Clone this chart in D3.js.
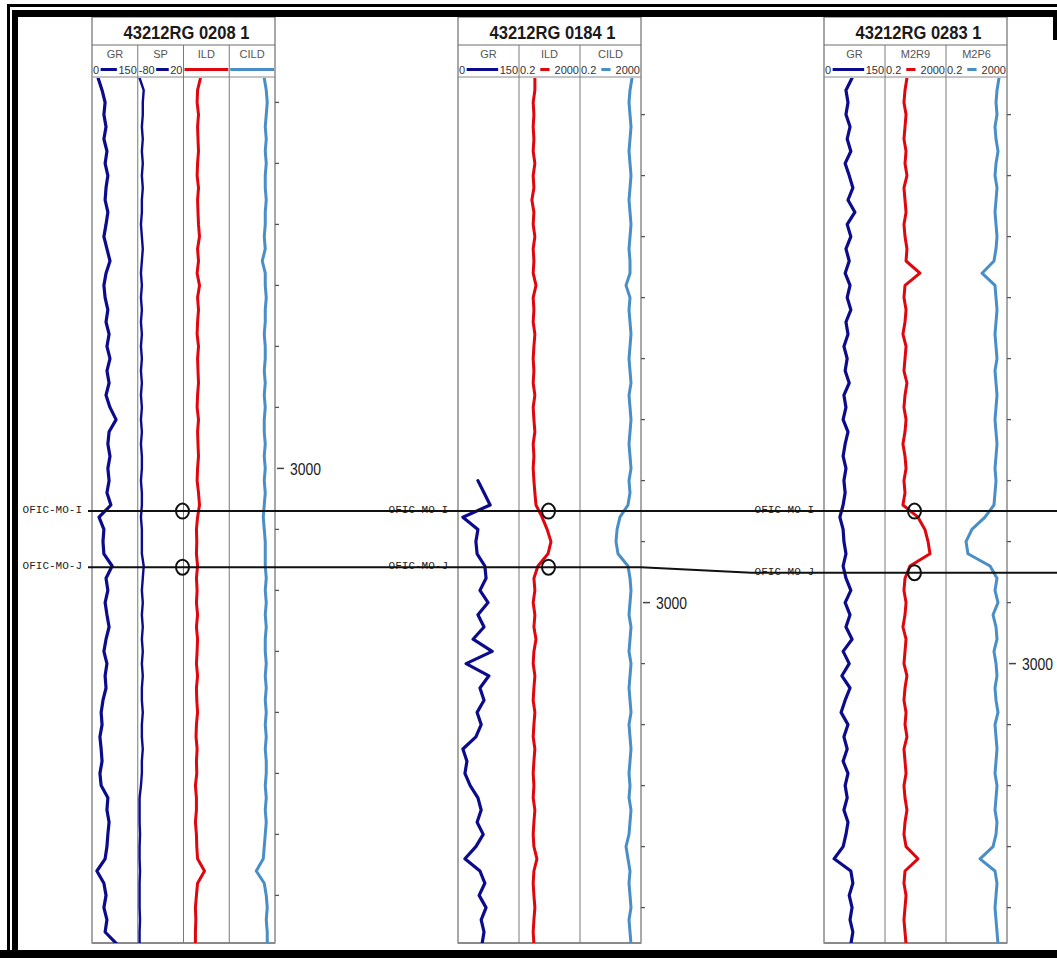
<!DOCTYPE html>
<html>
<head>
<meta charset="utf-8">
<script src="https://cdn.jsdelivr.net/npm/d3@7"></script>
<style>
  body { margin: 0; background: #fff; }
  svg { display: block; }
</style>
</head>
<body>
<div id="chart"></div>
<script>
// ---- data ----------------------------------------------------------
const wellNames = ["43212RG 0208 1", "43212RG 0184 1", "43212RG 0283 1"];
const wellTops = [2936, 2914, 2904];          // depth at top of track (m)
const sampleStep = 2;                          // m between samples
const depthLabel = 3000;
const markerNames = ["OFIC-MO-I", "OFIC-MO-J"];
const markerI = [3007.0, 2985.0, 2975.0];
const markerJ = [3016.2, 2994.2, 2985.1];

// well 43212RG 0208 1
const gr1 = [20,33,43,39,46,39,49,43,52,46, 43,52,46,39,49,59,46,39,43,52,
  46,56,49,59,49,56,46,59,79,56, 52,59,52,56,49,62,23,39,36,39,
  66,46,52,43,49,56,46,39,49,43, 46,36,30,33,26,30,33,26,30,52,
  49,56,52,49,43,16,39,46,39,49, 43,82];
const sp1 = [-76,-67,-69,-69,-71,-69,-71,-69,-71,-69, -71,-71,-73,-71,-69,-71,-73,-71,-73,-71,
  -73,-71,-73,-71,-73,-71,-73,-71,-73,-71, -73,-71,-71,-73,-71,-71,-73,-71,-71,-71,
  -67,-69,-71,-69,-71,-69,-71,-69,-71,-69, -71,-71,-69,-71,-71,-69,-71,-71,-73,-76,
  -76,-76,-75,-76,-76,-75,-76,-76,-76,-75, -76,-76];
const ild1 = [6.1,3.4,3.1,4.1,3.4,3.7,4.1,3.4,3.1,4.1, 3.4,3.7,4.1,5.0,3.4,4.1,3.1,5.0,3.4,4.1,
  3.4,3.1,4.1,3.4,3.7,4.1,3.4,3.1,4.1,3.4, 3.7,4.1,3.4,3.1,4.1,5.0,3.4,2.7,2.9,2.7,
  3.4,2.7,3.1,2.7,3.4,2.7,3.4,3.1,2.7,3.4, 2.7,2.9,3.4,2.7,2.5,3.1,2.7,2.9,2.2,2.7,
  2.7,2.2,2.7,2.9,3.4,13.7,3.4,2.7,2.2,2.4, 2.2,2.2];
const cild1 = [230,344,420,344,281,344,281,344,281,281, 344,281,281,230,281,154,281,281,344,281,
  281,230,281,281,230,281,230,281,230,230, 281,230,281,230,281,230,188,230,281,281,
  281,344,281,344,281,344,281,281,344,281, 344,281,344,281,344,281,344,344,281,344,
  281,344,281,230,188,46,230,344,420,344, 420,420];

// well 43212RG 0184 1
const gr2 = [null,null,null,null,null,null,null,null,null,null,
  null,null,null,null,null,null,null,null,null,null,
  null,null,null,null,null,null,null,null,null,null,
  null,null,null,49,64,79,12,49,44,47,
  66,69,54,74,49,64,37,84,20,76, 54,64,47,57,44,12,22,17,30,49,
  57,47,62,44,17,54,66,52,69,57, 64,59];
const ild2 = [2.2,2.2,1.7,1.9,1.7,1.9,1.7,2.2,1.7,1.9, 1.4,1.9,1.7,2.2,1.7,1.9,1.7,2.6,1.7,1.9,
  1.7,2.2,1.9,1.7,1.9,1.7,2.2,1.7,1.9,2.2, 1.7,1.9,1.7,1.9,2.2,2.6,6.5,14,25,16,
  3.5,1.9,2.2,1.7,2.2,1.9,2.6,1.9,1.7,2.2, 1.9,1.7,2.2,1.9,1.7,2.2,1.9,1.7,1.9,1.7,
  2.2,1.9,1.7,1.9,3.0,1.9,1.7,1.9,2.2,1.9, 1.7,1.9];
const cild2 = [515,381,327,381,442,381,327,381,442,381, 327,381,442,381,327,381,381,208,381,327,
  381,442,381,327,381,442,327,381,442,381, 327,381,442,327,381,280,83,54,46,62,
  280,381,442,381,327,442,381,327,442,381, 327,381,442,327,381,442,381,327,381,327,
  442,381,327,208,280,381,327,381,442,327, 381,442];

// well 43212RG 0283 1
const gr3 = [69,54,59,54,64,57,66,52,62,71, 59,76,57,66,54,62,52,64,57,66,
  54,59,49,57,52,62,49,54,47,59, 52,47,54,49,52,47,39,47,49,54,
  47,54,66,52,64,54,69,47,62,44, 64,52,42,59,49,57,47,59,52,57,
  49,59,54,47,25,66,71,62,69,64, 71,66];
const m2r9 = [5.5,4.1,3.5,4.8,4.1,3.5,4.8,4.1,5.5,3.5, 4.1,4.8,3.5,4.1,5.5,4.8,39,4.1,3.5,4.8,
  4.1,3.0,4.8,4.1,3.5,5.5,4.1,3.5,4.8,4.1, 3.0,4.1,4.8,3.5,4.1,3.0,29,83,133,178,
  8.7,4.1,3.5,4.8,4.1,3.0,4.8,4.1,3.5,5.5, 4.1,3.5,4.8,4.1,5.5,3.5,4.1,4.8,3.5,4.1,
  5.5,4.1,3.5,4.8,29,4.1,3.5,4.8,4.1,3.5, 4.1,4.8];
const m2p6 = [597,442,381,442,327,381,515,381,327,442, 381,327,381,442,381,280,46,327,381,442,
  381,327,381,442,327,381,442,381,327,381, 442,381,327,381,327,280,72,10,4.1,5.5,
  155,442,327,515,243,381,442,280,381,442, 327,381,515,327,381,442,381,327,442,381,
  327,442,381,243,34,327,442,381,327,381, 442,515];

// ---- layout --------------------------------------------------------
const W = 1057, H = 958;
const wellX = [92, 458, 824], wellW = 183;
const titleTop = 17, titleBottom = 45, headerBottom = 77;
const trackTop = 78, trackBottom = 943;
const pxPerMetre = 6.1;
const pickCol = [2, 1.5, 1.5];   // where the pick circles sit, in column units

const NAVY = "#0b0b8c", RED = "#e0060e", BLUE = "#4a8ec8";
const LOG = [0.2, 2000];

const wellCurves = [
  [ { name: "GR", values: gr1, domain: [0, 150], color: NAVY, width: 3.2, labels: ["0", "150"] },
    { name: "SP", values: sp1, domain: [-80, 20], color: NAVY, width: 2.4, labels: ["-80", "20"] },
    { name: "ILD", values: ild1, domain: LOG, log: true, color: RED, width: 3 },
    { name: "CILD", values: cild1, domain: LOG, log: true, color: BLUE, width: 3 } ],
  [ { name: "GR", values: gr2, domain: [0, 150], color: NAVY, width: 3.2, labels: ["0", "150"] },
    { name: "ILD", values: ild2, domain: LOG, log: true, color: RED, width: 3, labels: ["0.2", "2000"] },
    { name: "CILD", values: cild2, domain: LOG, log: true, color: BLUE, width: 3, labels: ["0.2", "2000"] } ],
  [ { name: "GR", values: gr3, domain: [0, 150], color: NAVY, width: 3.2, labels: ["0", "150"] },
    { name: "M2R9", values: m2r9, domain: LOG, log: true, color: RED, width: 3, labels: ["0.2", "2000"] },
    { name: "M2P6", values: m2p6, domain: LOG, log: true, color: BLUE, width: 3, labels: ["0.2", "2000"] } ]
];

const svg = d3.select("#chart").append("svg")
    .attr("width", W)
    .attr("height", H)
    .style("font-family", "'Liberation Sans', Arial, sans-serif");

svg.append("rect").attr("width", W).attr("height", H).attr("fill", "#fff");

// depth scale for each well
const yScales = wellTops.map(t => d3.scaleLinear()
    .domain([t, t + (trackBottom - trackTop) / pxPerMetre])
    .range([trackTop, trackBottom]));

const defs = svg.append("defs");

wellCurves.forEach((curves, k) => {
    const wx = wellX[k];
    const cw = wellW / curves.length;
    const y = yScales[k];
    const g = svg.append("g");

    defs.append("clipPath").attr("id", `clip${k}`)
      .append("rect")
        .attr("x", wx).attr("y", trackTop)
        .attr("width", wellW).attr("height", trackBottom - trackTop);

    // title box
    g.append("rect")
        .attr("x", wx).attr("y", titleTop)
        .attr("width", wellW).attr("height", trackBottom - titleTop)
        .attr("fill", "none").attr("stroke", "#6e6e6e").attr("stroke-width", 1.2);
    g.append("line")
        .attr("x1", wx).attr("x2", wx + wellW)
        .attr("y1", titleBottom).attr("y2", titleBottom)
        .attr("stroke", "#6e6e6e").attr("stroke-width", 1.2);
    g.append("line")
        .attr("x1", wx).attr("x2", wx + wellW)
        .attr("y1", headerBottom).attr("y2", headerBottom)
        .attr("stroke", "#8a8a8a").attr("stroke-width", 1);
    g.append("text")
        .attr("x", wx + wellW / 2 + 3 - 63)
        .attr("y", 39)
        .attr("font-size", 19)
        .attr("font-weight", "bold")
        .attr("fill", "#1a1a1a")
        .attr("textLength", 126)
        .attr("lengthAdjust", "spacingAndGlyphs")
        .text(wellNames[k]);

    // bottom line
    g.append("line")
        .attr("x1", wx).attr("x2", wx + wellW)
        .attr("y1", trackBottom).attr("y2", trackBottom)
        .attr("stroke", "#8a8a8a").attr("stroke-width", 2);

    curves.forEach((c, j) => {
        const x0 = wx + j * cw, x1 = x0 + cw;

        if (j > 0) {
            g.append("line")
                .attr("x1", x0).attr("x2", x0)
                .attr("y1", titleBottom).attr("y2", trackBottom)
                .attr("stroke", "#7a7a7a").attr("stroke-width", 1);
        }

        // header
        g.append("text")
            .attr("x", (x0 + x1) / 2).attr("y", 58)
            .attr("text-anchor", "middle")
            .attr("font-size", 11)
            .attr("fill", "#555")
            .text(c.name);

        let a = x0 + 1, b = x1 - 1;
        if (c.labels) {
            const lt = g.append("text")
                .attr("x", x0 + 1).attr("y", 74)
                .attr("font-size", 11).attr("fill", "#333")
                .text(c.labels[0]);
            const rt = g.append("text")
                .attr("x", x1 - 1).attr("y", 74)
                .attr("text-anchor", "end")
                .attr("font-size", 11).attr("fill", "#333")
                .text(c.labels[1]);
            const gap = c.log ? 5 : 1.5;
            a = x0 + 1 + lt.node().getComputedTextLength() + gap;
            b = x1 - 1 - rt.node().getComputedTextLength() - gap;
        }
        g.append("line")
            .attr("x1", a).attr("x2", b)
            .attr("y1", 69.5).attr("y2", 69.5)
            .attr("stroke", c.color).attr("stroke-width", 3);

        // curve
        const x = (c.log ? d3.scaleLog() : d3.scaleLinear())
            .domain(c.domain).range([x0, x1]);
        const line = d3.line()
            .defined(v => v != null)
            .x(v => x(v))
            .y((v, i) => y(wellTops[k] + i * sampleStep));
        g.append("path")
            .datum(c.values)
            .attr("clip-path", `url(#clip${k})`)
            .attr("d", line)
            .attr("fill", "none")
            .attr("stroke", c.color)
            .attr("stroke-width", c.width)
            .attr("stroke-linejoin", "round")
            .attr("stroke-linecap", "round");
    });

    // depth ticks
    const xr = wx + wellW;
    const [d0, d1] = y.domain();
    d3.range(Math.ceil(d0 / 10) * 10, d1, 10).forEach(d => {
        if (d === depthLabel) {
            g.append("line")
                .attr("x1", xr + 2).attr("x2", xr + 9)
                .attr("y1", y(d)).attr("y2", y(d))
                .attr("stroke", "#444").attr("stroke-width", 1.5);
            g.append("text")
                .attr("x", xr + 15).attr("y", y(d) + 6.5)
                .attr("font-size", 17)
                .attr("fill", "#1a1a1a")
                .attr("textLength", 31)
                .attr("lengthAdjust", "spacingAndGlyphs")
                .text(d);
        } else {
            g.append("line")
                .attr("x1", xr).attr("x2", xr + 4)
                .attr("y1", y(d)).attr("y2", y(d))
                .attr("stroke", "#555").attr("stroke-width", 1.3);
        }
    });
});

// ---- formation markers ----------------------------------------------
[markerI, markerJ].forEach((depths, m) => {
    const ys = depths.map((d, k) => yScales[k](d));
    const labelStart = [];

    ys.forEach((yy, k) => {
        const t = svg.append("text")
            .attr("x", wellX[k] - 10)
            .attr("y", yy - 1)
            .attr("text-anchor", "end")
            .attr("dominant-baseline", "central")
            .attr("font-family", "'Liberation Mono', 'DejaVu Sans Mono', monospace")
            .attr("font-size", 11)
            .attr("fill", "#222")
            .text(markerNames[m]);
        labelStart.push(wellX[k] - 10 - t.node().getComputedTextLength());
    });

    const pts = [[wellX[0] - 4, ys[0]], [wellX[0] + wellW, ys[0]]];
    for (let k = 1; k < ys.length; k++) {
        pts.push([labelStart[k] - 3, ys[k]]);
        pts.push([k === ys.length - 1 ? W : wellX[k] + wellW, ys[k]]);
    }
    svg.append("path")
        .attr("d", d3.line()(pts))
        .attr("fill", "none")
        .attr("stroke", "#111")
        .attr("stroke-width", 2);

    ys.forEach((yy, k) => {
        const cw = wellW / wellCurves[k].length;
        svg.append("ellipse")
            .attr("cx", wellX[k] + pickCol[k] * cw - 1)
            .attr("cy", yy)
            .attr("rx", 6.5).attr("ry", 7.5)
            .attr("fill", "none")
            .attr("stroke", "#111")
            .attr("stroke-width", 2);
    });
});

// ---- frame ----------------------------------------------------------
const frame = svg.append("g").attr("fill", "#000");
frame.append("rect").attr("x", 7).attr("y", 4).attr("width", W - 7).attr("height", 3);
frame.append("rect").attr("x", 7).attr("y", 4).attr("width", 3).attr("height", H - 4);
frame.append("rect").attr("x", 12).attr("y", 10).attr("width", W - 12).attr("height", 7);
frame.append("rect").attr("x", 12).attr("y", 10).attr("width", 6).attr("height", H - 10);
frame.append("rect").attr("x", 0).attr("y", 950).attr("width", W).attr("height", H - 950);
frame.append("rect").attr("x", W - 4).attr("y", 10).attr("width", 4).attr("height", 30);
</script>
</body>
</html>
